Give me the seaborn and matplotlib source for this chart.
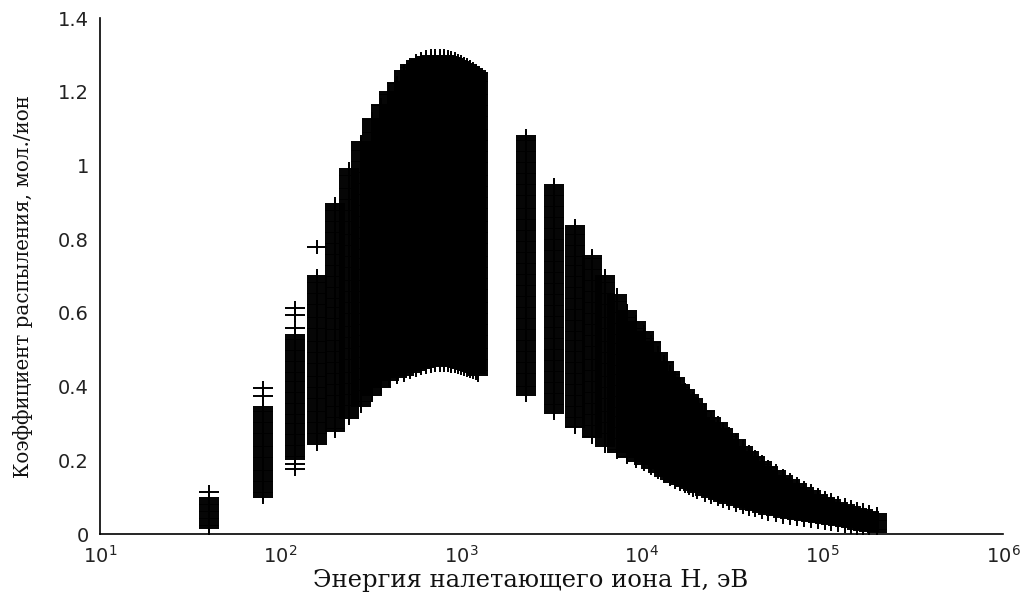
import numpy as np
import pandas as pd
import matplotlib
matplotlib.use("Agg")
import matplotlib.pyplot as plt
import seaborn as sns
from matplotlib.path import Path
from matplotlib.markers import MarkerStyle
from matplotlib.ticker import FixedLocator, FixedFormatter, LogLocator, NullFormatter

# Low-energy series: ion energy (eV) and the spread of sputtering yield at each energy
energy_low = [40, 80, 120, 160, 200, 240, 280, 320, 360, 400, 440, 480, 520, 560,
              600, 640, 680, 720, 760, 800, 840, 880, 920, 960, 1000, 1040, 1080,
              1120, 1160, 1200, 1240]
yield_low_min = [0.016, 0.100, 0.203, 0.245, 0.279, 0.316, 0.347, 0.378, 0.400, 0.419,
                 0.426, 0.432, 0.440, 0.446, 0.450, 0.454, 0.456, 0.458, 0.459, 0.459,
                 0.458, 0.457, 0.455, 0.453, 0.451, 0.448, 0.446, 0.443, 0.440, 0.436,
                 0.431]
yield_low_max = [0.097, 0.345, 0.540, 0.700, 0.895, 0.990, 1.063, 1.127, 1.165, 1.200,
                 1.225, 1.255, 1.273, 1.284, 1.290, 1.294, 1.296, 1.297, 1.297, 1.296,
                 1.294, 1.291, 1.288, 1.284, 1.280, 1.276, 1.272, 1.267, 1.262, 1.256,
                 1.250]

# High-energy series
energy_high = [2280, 3280, 4280, 5280, 6280, 7280, 8280, 9280, 10280, 11280, 12280,
               13280, 14280, 15280, 16280, 17280, 18280, 19280, 20280, 22280, 24280,
               26280, 28280, 30280, 33280, 36280, 39280, 42280, 46280, 50280, 55280,
               60280, 66280, 72280, 79280, 86280, 94280, 103280, 112280, 122280,
               133280, 144280, 156280, 168280, 180280, 200000]
yield_high_min = [0.378, 0.329, 0.289, 0.262, 0.240, 0.222, 0.208, 0.198, 0.190, 0.180,
                  0.168, 0.158, 0.149, 0.142, 0.135, 0.129, 0.124, 0.119, 0.115, 0.107,
                  0.100, 0.094, 0.089, 0.084, 0.078, 0.073, 0.068, 0.064, 0.060, 0.055,
                  0.051, 0.047, 0.043, 0.040, 0.037, 0.034, 0.032, 0.029, 0.027, 0.025,
                  0.022, 0.019, 0.014, 0.010, 0.007, 0.005]
yield_high_max = [1.080, 0.946, 0.835, 0.755, 0.700, 0.648, 0.605, 0.575, 0.548, 0.522,
                  0.490, 0.468, 0.440, 0.422, 0.405, 0.390, 0.378, 0.366, 0.354, 0.335,
                  0.316, 0.300, 0.285, 0.272, 0.254, 0.236, 0.222, 0.210, 0.196, 0.183,
                  0.170, 0.158, 0.146, 0.135, 0.125, 0.116, 0.107, 0.099, 0.091, 0.085,
                  0.079, 0.074, 0.069, 0.065, 0.061, 0.054]

# Isolated points lying outside the dense part of a column
extra_energy = [40, 80, 80, 120, 120, 120, 120, 120, 160]
extra_yield = [0.114, 0.374, 0.397, 0.560, 0.594, 0.612, 0.190, 0.176, 0.780]

# Axis ticks
x_ticks = [1e1, 1e2, 1e3, 1e4, 1e5, 1e6]
x_tick_labels = [r"$10^{1}$", r"$10^{2}$", r"$10^{3}$", r"$10^{4}$", r"$10^{5}$", r"$10^{6}$"]
y_ticks = [0, 0.2, 0.4, 0.6, 0.8, 1.0, 1.2, 1.4]
y_tick_labels = ["0", "0.2", "0.4", "0.6", "0.8", "1", "1.2", "1.4"]

x_label = "Энергия налетающего иона Н, эВ"
y_label = "Коэффициент распыления, мол./ион"

# Vertical spacing of the stacked markers inside a column
ROW_SPACING = 0.005


def column_points(energies, lows, highs):
    xs, ys = [], []
    for e, lo, hi in zip(energies, lows, highs):
        n = int(np.ceil((hi - lo) / ROW_SPACING)) + 1
        col = np.linspace(lo, hi, n)
        xs.extend([e] * len(col))
        ys.extend(col)
    return xs, ys


x1, y1 = column_points(energy_low, yield_low_min, yield_low_max)
x2, y2 = column_points(energy_high, yield_high_min, yield_high_max)
df = pd.DataFrame({
    "energy": np.concatenate([x1, x2, extra_energy]),
    "yield": np.concatenate([y1, y2, extra_yield]),
})

sns.set_style("white")
plt.rcParams["font.family"] = ["DejaVu Sans"]

fig = plt.figure(figsize=(10.32, 5.97), dpi=100)
ax = fig.add_axes([100 / 1032, 1 - 534 / 597, 903 / 1032, 516 / 597])

# plus-shaped marker, a little wider than tall
plus_path = Path([(-1, 0), (1, 0), (0, -0.74), (0, 0.74)],
                 [Path.MOVETO, Path.LINETO, Path.MOVETO, Path.LINETO])
plus_marker = MarkerStyle(plus_path)

sns.scatterplot(data=df, x="energy", y="yield", marker=plus_marker, s=188,
                color="black", edgecolor="black", linewidth=1.4, ax=ax,
                legend=False)

ax.set_xscale("log")
ax.set_xlim(10, 1e6)
ax.set_ylim(0, 1.4)

for side in ("top", "right"):
    ax.spines[side].set_visible(False)
for side in ("left", "bottom"):
    ax.spines[side].set_color("black")
    ax.spines[side].set_linewidth(1.2)

ax.xaxis.set_major_locator(FixedLocator(x_ticks))
ax.xaxis.set_major_formatter(FixedFormatter(x_tick_labels))
ax.xaxis.set_minor_locator(LogLocator(base=10, subs=np.arange(2, 10)))
ax.xaxis.set_minor_formatter(NullFormatter())
ax.yaxis.set_major_locator(FixedLocator(y_ticks))
ax.yaxis.set_major_formatter(FixedFormatter(y_tick_labels))

ax.tick_params(axis="x", which="major", direction="in", length=5.5, width=1.1,
               color="black", labelsize=14, pad=8, labelcolor="#222222")
ax.tick_params(axis="x", which="minor", direction="in", length=4, width=1.0,
               color="black")
ax.tick_params(axis="y", which="major", direction="in", length=7, width=1.1,
               color="black", labelsize=14, pad=8, labelcolor="#222222")

ax.set_xlabel(x_label, fontsize=17.5, family=["DejaVu Serif"], color="#111111")
ax.set_ylabel(y_label, fontsize=14.3, family=["DejaVu Serif"], color="#111111")
ax.xaxis.set_label_coords(0.477, -0.068)
ax.yaxis.set_label_coords(-0.074, 0.479)

fig.savefig("out.png", dpi=100, facecolor="white")
